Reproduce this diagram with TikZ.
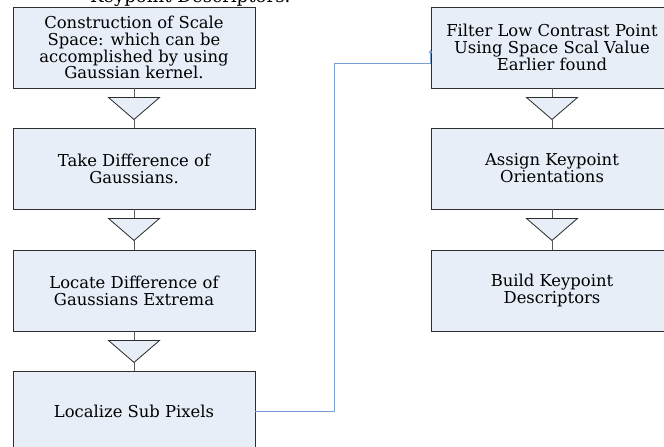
\documentclass[tikz,border=0pt]{standalone}
\usepackage{fontspec}
\setmainfont{DejaVu Serif}
\usetikzlibrary{arrows.meta,calc}
\definecolor{BoxFill}{RGB}{231,238,248}
\definecolor{RuleCol}{RGB}{45,45,45}
\definecolor{StemCol}{RGB}{90,90,90}
\definecolor{LinkBlue}{RGB}{120,158,212}
\tikzset{
  stepbox/.style={draw=RuleCol, fill=BoxFill, line width=0.8pt,
    minimum width=7.26cm, minimum height=2.43cm, align=center,
    font=\fontsize{14}{14.4}\selectfont, inner sep=2pt},
  tri/.style={draw=RuleCol, fill=BoxFill, line width=0.7pt},
  stem/.style={draw=StemCol, line width=0.8pt},
  link/.style={draw=LinkBlue, line width=0.8pt, -{Latex[length=3pt,width=3.5pt]}}
}

\begin{document}
\begin{tikzpicture}[x=0.03cm,y=-0.03cm]
  \useasboundingbox (0,0) rectangle (664,447);
  % cut-off heading
  \node[anchor=base west, inner sep=0pt, font=\fontsize{15.5}{16}\selectfont] (head) at (90,2.5) {Keypoint Descriptors.};
  % left column
  \node[stepbox] (scale) at (134,47.5) {Construction of Scale\\Space: which can be\\accomplished by using\\Gaussian kernel.};
  \node[stepbox] (dog)   at (134,168.5) {Take Difference of\\Gaussians.};
  \node[stepbox] (ext)   at (134,290.5) {Locate Difference of\\Gaussians Extrema};
  \node[stepbox] (sub)   at (134,411.5) {Localize Sub Pixels};
  % right column
  \node[stepbox] (filt)  at (552,47.5) {Filter Low Contrast Point\\Using Space Scal Value\\Earlier found};
  \node[stepbox] (ori)   at (552,168.5) {Assign Keypoint\\Orientations};
  \node[stepbox] (desc)  at (552,290.5) {Build Keypoint\\Descriptors};
  % triangles between boxes
  \foreach \a/\b in {scale/dog,dog/ext,ext/sub,filt/ori,ori/desc}{
    \coordinate (\a-t) at ($(\a.south)+(0,9)$);
    \coordinate (\a-p) at ($(\a.south)+(0,31)$);
    \draw[stem] (\a.south) -- (\a-t);
    \draw[tri] ($(\a-t)+(-25.5,0)$) -- ($(\a-t)+(25.5,0)$) -- (\a-p) -- cycle;
    \draw[stem] (\a-p) -- (\b.north);
  }
  % jump to second column
  \coordinate (bend) at (334,411.5);
  \coordinate (entry) at (filt.west |- 0,63);
  \draw[link] (sub.east) -- (bend) |- (entry) -- ++(0,-13.5);
\end{tikzpicture}
\end{document}
